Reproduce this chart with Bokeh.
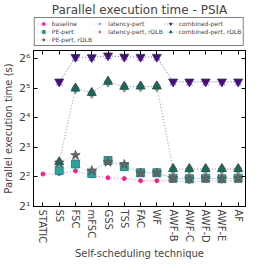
import numpy as np
from bokeh.plotting import figure
from bokeh.layouts import column
from bokeh.models import (Range1d, FixedTicker, LinearAxis, LogAxis, Legend,
                          LegendItem, ColumnDataSource)
from bokeh.embed import file_html
from bokeh.resources import INLINE

nan = float("nan")
techniques = ["STATIC", "SS", "FSC", "mFSC", "GSS", "TSS", "FAC", "WF",
              "AWF-B", "AWF-C", "AWF-D", "AWF-E", "AF"]
baseline = [4.29, 4.33, 4.62, 4.11, 3.94, 3.86, 3.67, 3.67, 3.67, 3.60, 3.67, 3.64, 3.67]
pe_pert = [nan, 4.65, 5.43, 4.33, 5.89, 5.10, 4.42, 4.42, 3.89, 3.84, 3.89, 3.84, 3.89]
pe_pert_rdlb = [nan, 5.60, 6.66, 4.65, 5.66, 5.36, 4.40, 4.40, 3.87, 3.84, 3.87, 3.84, 3.87]
latency_pert = [nan, 37.0, 66.0, 66.0, 68.5, 67.0, 66.5, 66.5, 37.0, 37.0, 37.0, 37.0, 37.0]
latency_pert_rdlb = [nan, 5.66, 32.0, 28.8, 37.5, 33.3, 33.6, 33.6, 4.82, 4.82, 4.82, 4.82, 4.82]
combined_pert = [nan, 37.5, 66.8, 66.3, 69.1, 67.1, 67.0, 67.0, 37.5, 37.5, 37.5, 37.5, 37.5]
combined_pert_rdlb = [nan, 5.66, 32.0, 28.8, 37.5, 33.3, 33.6, 33.6, 4.82, 4.82, 4.82, 4.82, 4.82]
y_ticks = [2, 4, 8, 16, 32, 64]
y_tick_labels = ["2¹", "2²", "2³", "2⁴", "2⁵", "2⁶"]

FONT = "DejaVu Sans"
xs = list(range(len(techniques)))
LEFT, RIGHT = 31, 5

# ---------------- main plot ----------------
p = figure(width=250, height=214, output_backend="svg", toolbar_location=None,
           y_axis_type="log", x_range=Range1d(-0.58, 12.45), y_range=Range1d(2, 78),
           min_border_left=LEFT, min_border_right=RIGHT, min_border_top=2, min_border_bottom=0)
p.grid.visible = False
p.outline_line_color = "black"
p.outline_line_width = 1

xt = FixedTicker(ticks=xs)
yt = FixedTicker(ticks=y_ticks, minor_ticks=[])

xa = p.xaxis[0]
xa.ticker = xt
xa.major_label_overrides = {i: t for i, t in zip(xs, techniques)}
xa.major_label_orientation = "vertical"
xa.major_label_text_font = FONT
xa.major_label_text_font_size = "10px"
xa.axis_label = "Self-scheduling technique"
xa.axis_label_text_font = FONT
xa.axis_label_text_font_size = "10px"
xa.axis_label_text_font_style = "normal"
xa.axis_label_standoff = 2
xa.major_label_standoff = 3

ya = p.yaxis[0]
ya.ticker = yt
ya.major_label_overrides = {v: t for v, t in zip(y_ticks, y_tick_labels)}
ya.major_label_text_font = FONT
ya.major_label_text_font_size = "11px"
ya.axis_label = "Parallel execution time (s)"
ya.axis_label_text_font = FONT
ya.axis_label_text_font_size = "10px"
ya.axis_label_text_font_style = "normal"
ya.axis_label_standoff = 2
ya.major_label_standoff = 3

for ax in (xa, ya):
    ax.major_tick_in = 4
    ax.major_tick_out = 0
    ax.minor_tick_in = 0
    ax.minor_tick_out = 0
    ax.axis_line_color = "black"

top = LinearAxis(ticker=xt, major_label_overrides={i: "" for i in xs},
                 major_label_text_font_size="1px", major_tick_in=4,
                 major_tick_out=0, minor_tick_in=0, minor_tick_out=0,
                 major_label_standoff=0, axis_line_color="black")
right = LogAxis(ticker=yt, major_label_overrides={v: "" for v in y_ticks},
                major_label_text_font_size="1px", major_tick_in=4,
                major_tick_out=0, minor_tick_in=0, minor_tick_out=0,
                major_label_standoff=0, axis_line_color="black")
p.add_layout(top, "above")
p.add_layout(right, "right")

# ---------------- title + legend strip ----------------
q = figure(width=250, height=48, output_backend="svg", toolbar_location=None,
           x_range=Range1d(0, 1), y_range=Range1d(1000, 2000),
           min_border_left=22, min_border_right=2, min_border_top=0, min_border_bottom=0)
q.grid.visible = False
q.axis.visible = False
q.outline_line_color = None
q.title.text = "Parallel execution time - PSIA"
q.title.text_font = FONT
q.title.text_font_size = "12px"
q.title.text_font_style = "normal"
q.title.align = "center"
q.title.offset = 0
q.title.standoff = 1

series = [
    ("baseline", baseline, "circle", "#ff1493", "#ff1493", 4, 0.6),
    ("PE-pert", pe_pert, "square", "#20a8a0", "#2f6f6c", 8, 0.5),
    ("PE-pert, rDLB", pe_pert_rdlb, "star", "#666666", "#555555", 10, 0.45),
    ("latency-pert", latency_pert, "x", "#7aa0f0", "#7aa0f0", 9, 0.5),
    ("latency-pert, rDLB", latency_pert_rdlb, "diamond", "#d98a98", "#8a7070", 11, 0.45),
    ("combined-pert", combined_pert, "inverted_triangle", "#4b0a82", "#3a2a6a", 9, 0.5),
    ("combined-pert, rDLB", combined_pert_rdlb, "triangle", "#107060", "#1f4f4a", 9, 0.45),
]

items = {}
for label, vals, marker, fill, edge, size, lalpha in series:
    src = ColumnDataSource(dict(x=xs, y=vals))
    rs = []
    for fig in (p, q):
        ln = fig.line("x", "y", source=src, line_color=fill, line_dash="1 2",
                      line_width=1, line_alpha=lalpha)
        mk = fig.scatter("x", "y", source=src, marker=marker, size=size,
                         fill_color=fill, line_color=edge,
                         line_width=0.8 if marker != "x" else 1.2)
        rs.append((ln, mk))
    items[label] = LegendItem(label=label, renderers=list(rs[1]))

# row-major order that reproduces the column layout of the reference legend
order = ["baseline", "latency-pert", "combined-pert",
         "PE-pert", "latency-pert, rDLB", "combined-pert, rDLB",
         "PE-pert, rDLB"]
legend = Legend(items=[items[k] for k in order], orientation="horizontal", ncols=3,
                label_text_font=FONT, label_text_font_size="6px",
                glyph_width=13, glyph_height=7, label_height=7,
                label_standoff=2, spacing=1, padding=2, margin=0,
                border_line_color="black", border_line_width=1,
                location="top_center")
q.add_layout(legend)

layout = column(q, p, spacing=0)
open("out.html", "w").write(file_html(layout, INLINE))
